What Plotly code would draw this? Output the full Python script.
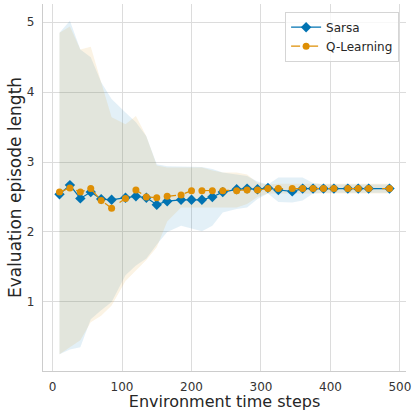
import plotly.graph_objects as go

steps = [10, 25, 40, 55, 70, 85, 105, 120, 135, 150, 165, 185, 200, 215, 230,
         245, 265, 280, 295, 310, 325, 345, 360, 375, 390, 405, 425, 440, 455, 485]

sarsa_mean = [2.54, 2.67, 2.48, 2.57, 2.47, 2.46, 2.49, 2.51, 2.49, 2.39, 2.44, 2.46, 2.46, 2.46, 2.50,
              2.57, 2.61, 2.62, 2.61, 2.63, 2.60, 2.58, 2.62, 2.62, 2.62, 2.62, 2.62, 2.62, 2.62, 2.62]
sarsa_upper = [4.85, 5.02, 4.61, 4.50, 4.14, 3.90, 3.71, 3.57, 3.37, 2.97, 2.94, 2.94, 2.94, 2.93, 2.90,
               2.85, 2.82, 2.80, 2.72, 2.68, 2.78, 2.78, 2.78, 2.70, 2.68, 2.68, 2.68, 2.68, 2.68, 2.68]
sarsa_lower = [0.25, 0.32, 0.35, 0.75, 0.88, 1.00, 1.38, 1.52, 1.62, 1.82, 2.00, 2.09, 2.05, 2.01, 2.09,
               2.28, 2.33, 2.35, 2.47, 2.55, 2.43, 2.42, 2.45, 2.55, 2.56, 2.56, 2.56, 2.56, 2.56, 2.56]

q_mean = [2.57, 2.63, 2.57, 2.62, 2.45, 2.34, 2.48, 2.60, 2.50, 2.49, 2.51, 2.53, 2.59, 2.59, 2.59,
          2.59, 2.59, 2.60, 2.60, 2.62, 2.62, 2.62, 2.62, 2.62, 2.62, 2.62, 2.62, 2.62, 2.62, 2.62]
q_upper = [4.85, 4.94, 4.61, 4.65, 4.14, 3.64, 3.54, 3.66, 3.37, 2.95, 2.92, 2.92, 2.92, 2.92, 2.88,
           2.85, 2.85, 2.82, 2.70, 2.68, 2.69, 2.69, 2.69, 2.69, 2.69, 2.69, 2.69, 2.69, 2.69, 2.69]
q_lower = [0.25, 0.35, 0.45, 0.71, 0.80, 0.95, 1.30, 1.45, 1.60, 1.78, 2.15, 2.35, 2.35, 2.35, 2.35,
           2.35, 2.35, 2.40, 2.50, 2.55, 2.55, 2.55, 2.55, 2.55, 2.55, 2.55, 2.55, 2.55, 2.55, 2.55]

x_ticks = [0, 100, 200, 300, 400, 500]
y_ticks = [1, 2, 3, 4, 5]

BLUE = "#0173B2"
ORANGE = "#DE8F05"
BLUE_FILL = "rgba(1,115,178,0.11)"
ORANGE_FILL = "rgba(222,143,5,0.11)"

fig = go.Figure()

for lower, upper, fillc in [(sarsa_lower, sarsa_upper, BLUE_FILL), (q_lower, q_upper, ORANGE_FILL)]:
    fig.add_trace(go.Scatter(x=steps, y=lower, mode="lines", line=dict(width=0),
                             showlegend=False, hoverinfo="skip"))
    fig.add_trace(go.Scatter(x=steps, y=upper, mode="lines", line=dict(width=0),
                             fill="tonexty", fillcolor=fillc, showlegend=False, hoverinfo="skip"))

fig.add_trace(go.Scatter(x=steps, y=sarsa_mean, mode="lines+markers", name="Sarsa",
                         line=dict(color=BLUE, width=1.2),
                         marker=dict(symbol="diamond", size=8, color=BLUE)))
fig.add_trace(go.Scatter(x=steps, y=q_mean, mode="lines+markers", name="Q-Learning",
                         line=dict(color=ORANGE, width=1.2, dash="dash"),
                         marker=dict(symbol="circle", size=7, color=ORANGE)))

fig.update_layout(
    width=415, height=411,
    margin=dict(l=43, r=7, t=4, b=40),
    paper_bgcolor="white", plot_bgcolor="white",
    font=dict(family="DejaVu Sans", size=12, color="#333333"),
    legend=dict(x=0.981, y=0.979, xanchor="right", yanchor="top", traceorder="normal",
                bgcolor="rgba(255,255,255,0.8)", bordercolor="#d5d5d5", borderwidth=1,
                font=dict(size=12, color="#262626"), tracegroupgap=2),
    xaxis=dict(range=[-13.75, 508.75], tickvals=x_ticks, showgrid=True, gridcolor="#dcdcdc",
               gridwidth=1, showline=True, linecolor="#cccccc", linewidth=1.3, zeroline=False,
               ticks="", ticklabelstandoff=4,
               title=dict(text="Environment time steps", font=dict(size=16, color="#262626"), standoff=2)),
    yaxis=dict(range=[0.0115, 5.26], tickvals=y_ticks, showgrid=True, gridcolor="#dcdcdc",
               gridwidth=1, showline=True, linecolor="#cccccc", linewidth=1.3, zeroline=False,
               ticks="", ticklabelstandoff=5,
               title=dict(text="Evaluation episode length", font=dict(size=17, color="#262626"), standoff=0)),
)

fig.write_html("out.html")
